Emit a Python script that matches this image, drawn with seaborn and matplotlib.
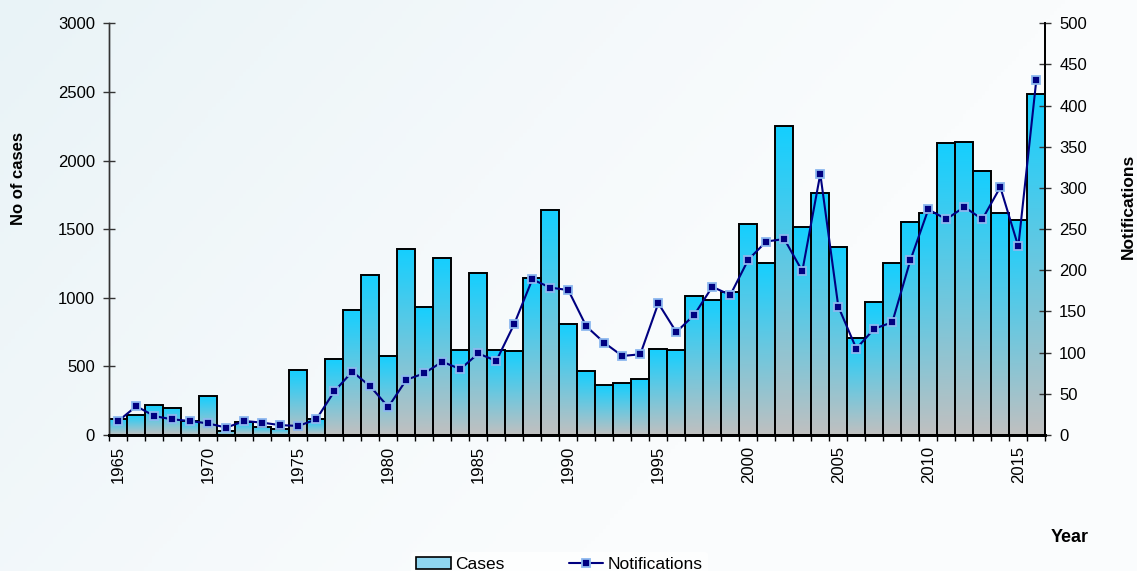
import numpy as np
import matplotlib
matplotlib.use("Agg")
import matplotlib.pyplot as plt
from matplotlib.patches import Patch
from matplotlib.lines import Line2D
import seaborn as sns

# Annual case counts and notifications, 1965-2016
years = list(range(1965, 2017))
cases = [117, 148, 216, 197, 105, 281, 31, 92, 60, 44,
         472, 114, 554, 911, 1168, 576, 1357, 935, 1290, 619,
         1183, 619, 614, 1146, 1640, 811, 466, 364, 376, 408,
         627, 619, 1013, 984, 1042, 1538, 1256, 2249, 1513, 1766,
         1370, 709, 967, 1251, 1554, 1615, 2130, 2137, 1924, 1615,
         1566, 2483]
notifications = [17, 35, 23, 19, 17, 14, 9, 17, 15, 12,
                 11, 19, 53, 77, 59, 34, 67, 75, 89, 80,
                 99, 90, 135, 189, 179, 176, 132, 112, 96, 98,
                 160, 125, 146, 180, 170, 213, 235, 238, 199, 317,
                 156, 105, 129, 137, 212, 274, 262, 277, 262, 301,
                 229, 431]
label_years = [1965, 1970, 1975, 1980, 1985, 1990, 1995, 2000, 2005, 2010, 2015]

sns.set_theme(style="white")
plt.rcParams["font.family"] = ["Liberation Sans", "DejaVu Sans"]
plt.rcParams["text.color"] = "black"

W, H = 1137, 571
fig = plt.figure(figsize=(W / 100, H / 100), dpi=100)

# soft bluish page background fading to white
bg = fig.add_axes([0, 0, 1, 1], zorder=-10)
gx, gy = np.meshgrid(np.linspace(0, 1, 300), np.linspace(0, 1, 150))
blend = np.clip(1 - (gx * 0.8 + gy * 0.35) / 0.75, 0, 1) ** 1.2
c0 = np.array([250, 252, 253]) / 255
c1 = np.array([233, 243, 247]) / 255
bg_img = c0[None, None, :] * (1 - blend[..., None]) + c1[None, None, :] * blend[..., None]
bg.imshow(bg_img, extent=[0, 1, 0, 1], aspect="auto", origin="upper")
bg.axis("off")

ax = fig.add_axes([109.3 / W, 1 - 435 / H, 936 / W, (435 - 23.3) / H])
ax.set_facecolor("none")

sns.barplot(x=years, y=cases, ax=ax, width=1.0, color="#1ccffc",
            edgecolor="black", linewidth=1.4, saturation=1)

# vertical cyan-to-grey gradient inside every bar
grad = np.linspace(0, 1, 256)[:, None]
top_c = np.array([20, 207, 255]) / 255
bot_c = np.array([192, 192, 192]) / 255
grad_img = top_c[None, None, :] * (1 - grad[..., None]) + bot_c[None, None, :] * grad[..., None]
for p in ax.patches:
    x0, w, h = p.get_x(), p.get_width(), p.get_height()
    ax.imshow(grad_img, extent=[x0, x0 + w, 0, h], aspect="auto",
              origin="upper", zorder=p.get_zorder() - 0.1, interpolation="bilinear")
    p.set_facecolor("none")

n = len(years)
ax.set_xlim(-0.5, n - 0.5)
ax.set_ylim(0, 3000)
ax.set_yticks(np.arange(0, 3001, 500))
ax.set_ylabel("")
ax.set_xlabel("")

ax2 = ax.twinx()
sns.pointplot(x=years, y=notifications, ax=ax2, color="#000080",
              markers="s", linestyles="-", linewidth=1.5, markersize=6,
              markeredgecolor="#8db8ef", markeredgewidth=1.3,
              markerfacecolor="#000080")
ax2.set_ylim(0, 500)
ax2.set_yticks(np.arange(0, 501, 50))
ax2.set_ylabel("")
ax2.set_xlabel("")
ax2.set_xlim(-0.5, n - 0.5)

# x ticks at bar boundaries, year labels at bar centres
ax.set_xticks(np.arange(-0.5, n, 1.0))
ax.set_xticklabels([])
ax.set_xticks([years.index(y) for y in label_years], minor=True)
ax.set_xticklabels([str(y) for y in label_years], minor=True, rotation=90)
ax.tick_params(axis="x", which="major", direction="out", length=4, width=1, color="black", bottom=True)
ax.tick_params(axis="x", which="minor", length=0, pad=8, labelsize=12, labelcolor="black", bottom=True)
ax.tick_params(axis="y", direction="inout", length=8.5, width=1, color="#333333",
               labelsize=12, pad=6, labelcolor="black", left=True)
ax2.tick_params(axis="y", direction="inout", length=8, width=1, color="#333333",
                labelsize=12, pad=6, labelcolor="black", right=True)

for a in (ax, ax2):
    a.spines["top"].set_visible(False)
    a.spines["left"].set_color("#333333")
    a.spines["left"].set_linewidth(1.0)
    a.spines["right"].set_color("black")
    a.spines["right"].set_linewidth(1.3)
    a.spines["bottom"].set_color("black")
    a.spines["bottom"].set_linewidth(2.0)
    a.grid(False)

fig.text(19 / W, 1 - 179 / H, "No of cases", rotation=90, ha="center", va="center",
         fontsize=12, fontweight="bold", color="black")
fig.text(1128 / W, 1 - 206 / H, "Notifications", rotation=90, ha="center", va="center",
         fontsize=12.5, fontweight="bold", color="black")
fig.text(1070 / W, 1 - 537 / H, "Year", ha="center", va="center",
         fontsize=13, fontweight="bold", color="black")

handles = [
    Patch(facecolor="#8fd6f0", edgecolor="black", linewidth=1.2, label="Cases"),
    Line2D([0], [0], color="#000080", linewidth=1.5, marker="s", markersize=6,
           markerfacecolor="#000080", markeredgecolor="#8db8ef", markeredgewidth=1.3,
           label="Notifications"),
]
leg = fig.legend(handles=handles, loc="upper left", bbox_to_anchor=(402 / W, 1 - 543 / H),
                 ncol=2, frameon=True, fontsize=12.5, columnspacing=3.7,
                 handlelength=2.0, handletextpad=0.25, borderpad=0.3)
leg.get_frame().set_facecolor("white")
leg.get_frame().set_edgecolor("none")
leg.get_frame().set_alpha(0.8)
for t in leg.get_texts():
    t.set_color("black")

fig.savefig("out.png", dpi=100)
